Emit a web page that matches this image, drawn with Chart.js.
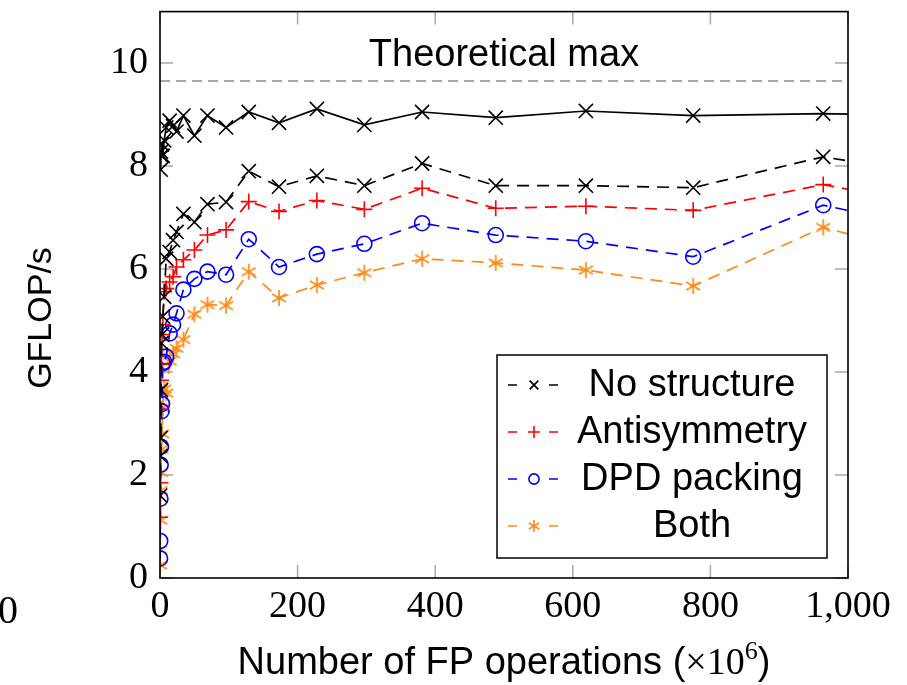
<!DOCTYPE html>
<html>
<head>
<meta charset="utf-8">
<script src="https://cdn.jsdelivr.net/npm/chart.js@4.4.0/dist/chart.umd.min.js"></script>
<style>
    html, body { margin: 0; padding: 0; background: #fff; }
    #wrap { width: 907px; height: 685px; }
</style>
</head>
<body>
<div id="wrap"><canvas id="perfChart"></canvas></div>
<script>
// number of FP operations (x 10^6)
const flops = [0.1, 0.3, 0.6, 1, 1.5, 2.2, 3, 4, 6, 9, 14, 19, 24, 34, 50, 69, 96, 129, 173, 228, 297, 381, 488, 619, 775, 964, 1190];

// GFLOP/s per variant
const peak = [null, null, null, 7.93, 8.28, 8.2, 8.42, 8.2, 8.5, 8.75, 8.88, 8.78, 8.67, 8.98, 8.59, 8.98, 8.75, 9.05, 8.84, 9.11, 8.80, 9.05, 8.94, 9.07, 8.98, 9.02, 8.95];
const noStructure = [null, 1.6, 2.37, 2.72, 3.65, 4.56, 4.73, 5.08, 5.46, 6.2, 6.33, 6.56, 6.72, 7.07, 6.91, 7.26, 7.3, 7.90, 7.60, 7.81, 7.62, 8.05, 7.62, 7.62, 7.58, 8.18, 7.68];
const antisymmetry = [null, 1.18, 1.85, 3.28, 3.84, 4.15, 4.73, 4.92, 5.56, 5.62, 5.75, 5.85, 6.04, 6.18, 6.37, 6.66, 6.76, 7.31, 7.12, 7.33, 7.16, 7.57, 7.18, 7.22, 7.14, 7.64, 7.07];
const dpdPacking = [0.38, 0.72, 1.54, 2.2, 2.55, 3.24, 3.38, 4.17, 4.2, 4.3, 4.75, 4.92, 5.14, 5.6, 5.81, 5.95, 5.89, 6.58, 6.04, 6.29, 6.49, 6.89, 6.66, 6.54, 6.24, 7.24, 6.6];
const both = [0.25, 0.55, 1.12, 1.7, 2.05, 2.5, 2.8, 3.3, 3.67, 3.59, 4.21, 4.35, 4.46, 4.63, 5.12, 5.31, 5.29, 5.95, 5.44, 5.69, 5.93, 6.20, 6.12, 5.98, 5.67, 6.81, 6.0];

const theoreticalMax = 9.65;
const xTicks = [0, 200, 400, 600, 800, 1000];
const yTicks = [0, 2, 4, 6, 8, 10];
const legendNames = ['No structure', 'Antisymmetry', 'DPD packing', 'Both'];

const SANS = '"Liberation Sans", Arial, sans-serif';
const SERIF = '"Liberation Serif", "Times New Roman", serif';
const ORANGE = '#ff8a14';

function pairs(ys) {
    return flops.map((x, i) => ({ x: x, y: ys[i] }));
}

// pgfplots style asterisk (6 arms)
function asteriskMark(color, r) {
    const c = document.createElement('canvas');
    const s = Math.ceil(r * 2 + 4);
    c.width = s; c.height = s;
    const g = c.getContext('2d');
    g.strokeStyle = color;
    g.lineWidth = 1.7;
    g.translate(s / 2, s / 2);
    for (let k = 0; k < 3; k++) {
        const a = Math.PI / 2 + k * Math.PI / 3;
        g.beginPath();
        g.moveTo(-r * Math.cos(a), -r * Math.sin(a));
        g.lineTo(r * Math.cos(a), r * Math.sin(a));
        g.stroke();
    }
    return c;
}

function drawMark(ctx, kind, color, x, y, r) {
    ctx.save();
    ctx.strokeStyle = color;
    ctx.lineWidth = 1.6;
    ctx.setLineDash([]);
    ctx.beginPath();
    if (kind === 'x') {
        const d = r * 0.72;
        ctx.moveTo(x - d, y - d); ctx.lineTo(x + d, y + d);
        ctx.moveTo(x - d, y + d); ctx.lineTo(x + d, y - d);
    } else if (kind === '+') {
        ctx.moveTo(x - r, y); ctx.lineTo(x + r, y);
        ctx.moveTo(x, y - r); ctx.lineTo(x, y + r);
    } else if (kind === 'o') {
        ctx.arc(x, y, r * 0.85, 0, Math.PI * 2);
    } else {
        for (let k = 0; k < 3; k++) {
            const a = Math.PI / 2 + k * Math.PI / 3;
            ctx.moveTo(x - r * Math.cos(a), y - r * Math.sin(a));
            ctx.lineTo(x + r * Math.cos(a), y + r * Math.sin(a));
        }
    }
    ctx.stroke();
    ctx.restore();
}

const decor = {
    id: 'decor',
    beforeDatasetsDraw(chart) {
        const { ctx, chartArea: ca, scales } = chart;
        ctx.save();
        ctx.strokeStyle = '#a8a8a8';
        ctx.lineWidth = 1.5;
        const len = 13;
        xTicks.forEach(v => {
            const px = scales.x.getPixelForValue(v);
            ctx.beginPath();
            ctx.moveTo(px, ca.bottom); ctx.lineTo(px, ca.bottom - len);
            ctx.moveTo(px, ca.top); ctx.lineTo(px, ca.top + len);
            ctx.stroke();
        });
        yTicks.forEach(v => {
            const py = scales.y.getPixelForValue(v);
            ctx.beginPath();
            ctx.moveTo(ca.left, py); ctx.lineTo(ca.left + len, py);
            ctx.moveTo(ca.right, py); ctx.lineTo(ca.right - len, py);
            ctx.stroke();
        });
        ctx.restore();
    },
    afterDraw(chart) {
        const { ctx, chartArea: ca, scales } = chart;
        ctx.save();
        // plot frame
        ctx.strokeStyle = '#000';
        ctx.lineWidth = 1.6;
        ctx.strokeRect(ca.left, ca.top, ca.right - ca.left, ca.bottom - ca.top);

        // theoretical max label
        ctx.fillStyle = '#000';
        ctx.font = '38px ' + SANS;
        ctx.textAlign = 'center';
        ctx.textBaseline = 'middle';
        ctx.fillText('Theoretical max', scales.x.getPixelForValue(500), scales.y.getPixelForValue(10.15));

        // legend box
        const bl = ca.right - 351, br = ca.right - 21;
        const bt = ca.bottom - 223, bb = ca.bottom - 20;
        ctx.fillStyle = '#fff';
        ctx.fillRect(bl, bt, br - bl, bb - bt);
        ctx.strokeStyle = '#000';
        ctx.lineWidth = 1.5;
        ctx.strokeRect(bl, bt, br - bl, bb - bt);
        const marks = ['x', '+', 'o', '*'];
        const cols = ['#000', '#ff0000', '#0000ff', ORANGE];
        legendNames.forEach((name, i) => {
            const y = bt + 30 + i * 47;
            ctx.strokeStyle = cols[i];
            ctx.lineWidth = 1.6;
            ctx.beginPath();
            ctx.moveTo(bl + 11, y); ctx.lineTo(bl + 20, y);
            ctx.moveTo(bl + 52, y); ctx.lineTo(bl + 61, y);
            ctx.stroke();
            drawMark(ctx, marks[i], cols[i], bl + 37, y, 6);
            ctx.fillStyle = '#000';
            ctx.font = '38px ' + SANS;
            ctx.textAlign = 'center';
            ctx.textBaseline = 'middle';
            ctx.fillText(name, bl + 195, y + 1);
        });

        // y title
        ctx.save();
        ctx.translate(42, 318);
        ctx.rotate(-Math.PI / 2);
        ctx.font = '34px ' + SANS;
        ctx.fillStyle = '#000';
        ctx.textAlign = 'center';
        ctx.textBaseline = 'middle';
        ctx.fillText('GFLOP/s', 0, 0);
        ctx.restore();

        // x title: sans text with math part in serif
        const parts = [
            { t: 'Number of FP operations (', f: '38px ' + SANS, dy: 0 },
            { t: '\u00d710', f: '38px ' + SERIF, dy: 0 },
            { t: '6', f: '26px ' + SERIF, dy: -15 },
            { t: ')', f: '38px ' + SANS, dy: 0 }
        ];
        let total = 0;
        parts.forEach(p => { ctx.font = p.f; p.w = ctx.measureText(p.t).width; total += p.w; });
        let x = (ca.left + ca.right) / 2 - total / 2;
        ctx.textAlign = 'left';
        ctx.textBaseline = 'alphabetic';
        parts.forEach(p => {
            ctx.font = p.f;
            ctx.fillText(p.t, x, 674 + p.dy);
            x += p.w;
        });

        // stray label from the neighbouring panel
        ctx.font = '40px ' + SERIF;
        ctx.textAlign = 'left';
        ctx.textBaseline = 'middle';
        ctx.fillText('0', -2, 612);
        ctx.restore();
    }
};

const lineBase = {
    borderWidth: 1.7,
    pointBorderWidth: 1.6,
    backgroundColor: 'transparent',
    pointBackgroundColor: 'transparent',
    tension: 0,
    spanGaps: false,
};

new Chart(document.getElementById('perfChart'), {
    type: 'line',
    data: {
        datasets: [
            {
                label: 'Theoretical max',
                data: [{ x: 0, y: theoreticalMax }, { x: 1000, y: theoreticalMax }],
                borderColor: '#8c8c8c',
                borderWidth: 1.5,
                borderDash: [10, 6],
                pointRadius: 0,
            },
            {
                ...lineBase,
                label: 'Peak',
                data: pairs(peak),
                borderColor: '#000',
                pointStyle: 'crossRot',
                pointRadius: 10,
                pointBorderColor: '#000',
            },
            {
                ...lineBase,
                label: legendNames[0],
                data: pairs(noStructure),
                borderColor: '#000',
                borderDash: [12, 8],
                pointStyle: 'crossRot',
                pointRadius: 10,
                pointBorderColor: '#000',
            },
            {
                ...lineBase,
                label: legendNames[1],
                data: pairs(antisymmetry),
                borderColor: '#ff0000',
                borderDash: [12, 8],
                pointStyle: 'cross',
                pointRadius: 8,
                pointBorderColor: '#ff0000',
            },
            {
                ...lineBase,
                label: legendNames[2],
                data: pairs(dpdPacking),
                borderColor: '#0000ff',
                borderDash: [12, 8],
                pointStyle: 'circle',
                pointRadius: 7.5,
                pointBorderColor: '#0000ff',
            },
            {
                ...lineBase,
                label: legendNames[3],
                data: pairs(both),
                borderColor: ORANGE,
                borderDash: [12, 8],
                pointStyle: asteriskMark(ORANGE, 8),
                pointRadius: 8,
                pointBorderColor: ORANGE,
            },
        ],
    },
    options: {
        responsive: true,
        maintainAspectRatio: false,
        animation: false,
        events: [],
        layout: { padding: { top: 8, right: 59, left: 0, bottom: 0 } },
        plugins: {
            legend: { display: false },
            tooltip: { enabled: false },
        },
        scales: {
            x: {
                type: 'linear',
                min: 0,
                max: 1000,
                grid: { display: false, drawTicks: false },
                border: { display: false },
                afterBuildTicks: (s) => { s.ticks = xTicks.map(v => ({ value: v })); },
                afterFit: (s) => { s.height = 107; s.paddingLeft = 0; s.paddingRight = 0; },
                ticks: {
                    color: '#000',
                    padding: 6,
                    maxRotation: 0,
                    font: { family: SERIF, size: 38 },
                    callback: (v) => v.toLocaleString('en-US'),
                },
            },
            y: {
                type: 'linear',
                min: 0,
                max: 11,
                grid: { display: false, drawTicks: false },
                border: { display: false },
                afterBuildTicks: (s) => { s.ticks = yTicks.map(v => ({ value: v })); },
                afterFit: (s) => { s.width = 160; s.paddingTop = 0; s.paddingBottom = 0; },
                ticks: {
                    color: '#000',
                    padding: 12,
                    font: { family: SERIF, size: 38 },
                },
            },
        },
    },
    plugins: [decor],
});
</script>
</body>
</html>
